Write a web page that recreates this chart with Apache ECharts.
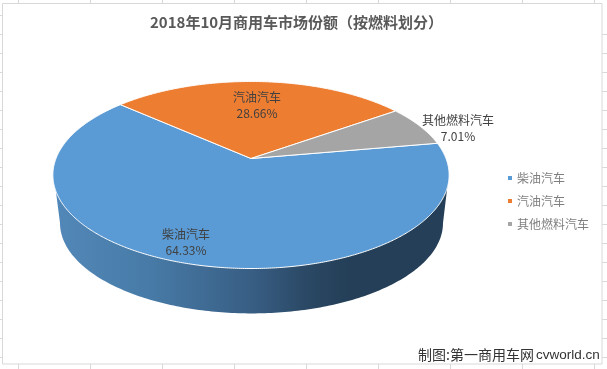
<!DOCTYPE html>
<html>
<head>
<meta charset="utf-8">
<style>html,body{margin:0;padding:0;background:#fff}#main{width:607px;height:369px}</style>
<script src="https://cdn.jsdelivr.net/npm/echarts@6/dist/echarts.min.js"></script>
</head>
<body>
<div id="main"></div>
<script>
var categories = ['柴油汽车', '汽油汽车', '其他燃料汽车'];
var shares = [64.33, 28.66, 7.01];
var colors = ['#5B9BD5', '#ED7D31', '#A5A5A5'];

// pie geometry, tilted disc seen in perspective
var FIRST_ANGLE = 80;
var CX = 251, CY = 158.5, RX = 195, RY = 90.6, PERSP = 0.1765;
var labelPos = [[186, 242.5], [257, 105.5], [458, 128.5]];
var font = '"Noto Sans CJK SC", sans-serif';

function project(deg) {
	var t = deg * Math.PI / 180;
	var x = Math.sin(t), y = -Math.cos(t);
	var d = 1 - PERSP * y;
	return [CX + RX * x / d, CY + RY * y / d];
}

function sliceItem(idx) {
	return function () {
		var total = 0, before = 0;
		for (var i = 0; i < shares.length; i++) {
			total += shares[i];
			if (i < idx) before += shares[i];
		}
		var a0 = FIRST_ANGLE + before / total * 360;
		var a1 = a0 + shares[idx] / total * 360;
		var pts = [[CX, CY]];
		for (var a = a0; a < a1; a += 0.5) pts.push(project(a));
		pts.push(project(a1));
		return {
			type: 'group',
			children: [{
				type: 'polygon',
				shape: { points: pts },
				style: { fill: colors[idx], stroke: '#fff', lineWidth: 1 }
			}, {
				type: 'text',
				x: labelPos[idx][0],
				y: labelPos[idx][1],
				style: {
					text: categories[idx] + '\n' + shares[idx].toFixed(2) + '%',
					fill: '#404040',
					font: '12px ' + font,
					lineHeight: 15.5,
					align: 'center',
					verticalAlign: 'middle'
				}
			}]
		};
	};
}

function wallItem() {
	var pts = [[53.5, 173]];
	for (var a = 180; a >= 0; a -= 1) {
		var t = a * Math.PI / 180;
		pts.push([251.5 + 191.5 * Math.cos(t), 223 + 90.4 * Math.sin(t)]);
	}
	pts.push([449, 173]);
	return {
		type: 'polygon',
		shape: { points: pts },
		style: {
			fill: new echarts.graphic.LinearGradient(0, 0, 1, 0, [
				{ offset: 0, color: '#5288B9' },
				{ offset: 0.25, color: '#477AA6' },
				{ offset: 0.5, color: '#385E84' },
				{ offset: 0.65, color: '#2A4763' },
				{ offset: 0.75, color: '#243F57' },
				{ offset: 1, color: '#243F57' }
			])
		}
	};
}

// bits of worksheet grid around the chart
var sheet = [{
	type: 'rect',
	shape: { x: 2.5, y: 3.5, width: 599.5, height: 360.5 },
	style: { fill: '#fff', stroke: '#D9D9D9', lineWidth: 1 },
	z: -1
}];
function gridLine(x1, y1, x2, y2) {
	sheet.push({
		type: 'line',
		shape: { x1: x1, y1: y1, x2: x2, y2: y2 },
		style: { stroke: '#D9D9D9', lineWidth: 1 },
		z: -1
	});
}
for (var gx = 18.5; gx < 600; gx += 72) {
	gridLine(gx, 0, gx, 3);
	gridLine(gx, 364, gx, 369);
}
for (var gy = 15.5; gy < 364; gy += 19) {
	gridLine(0, gy, 2, gy);
	if (gy > 30) gridLine(602, gy, 607, gy);
}
sheet.push({
	type: 'text',
	x: 418,
	y: 355,
	style: {
		text: '制图:第一商用车网',
		fill: '#333',
		font: '14px ' + font,
		verticalAlign: 'middle'
	}
});
sheet.push({
	type: 'text',
	x: 536,
	y: 355,
	style: {
		text: 'cvworld.cn',
		fill: '#333',
		font: '13.5px "Liberation Sans", sans-serif',
		verticalAlign: 'middle'
	}
});

var series = [{
	type: 'custom',
	name: 'wall',
	coordinateSystem: 'none',
	silent: true,
	data: [[1]],
	renderItem: wallItem
}];
for (var s = 0; s < categories.length; s++) {
	series.push({
		type: 'custom',
		name: categories[s],
		coordinateSystem: 'none',
		silent: true,
		itemStyle: { color: colors[s] },
		data: [[shares[s]]],
		renderItem: sliceItem(s)
	});
}

var chart = echarts.init(document.getElementById('main'), null, { renderer: 'canvas' });
chart.setOption({
	animation: false,
	color: colors,
	title: {
		text: '2018年10月商用车市场份额（按燃料划分）',
		left: 150,
		top: 15,
		padding: 0,
		textStyle: { fontSize: 15, fontWeight: 'bold', color: '#595959', fontFamily: font }
	},
	legend: {
		data: categories,
		orient: 'vertical',
		left: 508,
		top: 172,
		padding: 0,
		icon: 'rect',
		itemWidth: 4,
		itemHeight: 4,
		itemGap: 11,
		selectedMode: false,
		textStyle: { fontSize: 12, color: '#7F7F7F', fontFamily: font, padding: [0, 0, 0, 0] }
	},
	graphic: sheet,
	series: series
});
</script>
</body>
</html>
